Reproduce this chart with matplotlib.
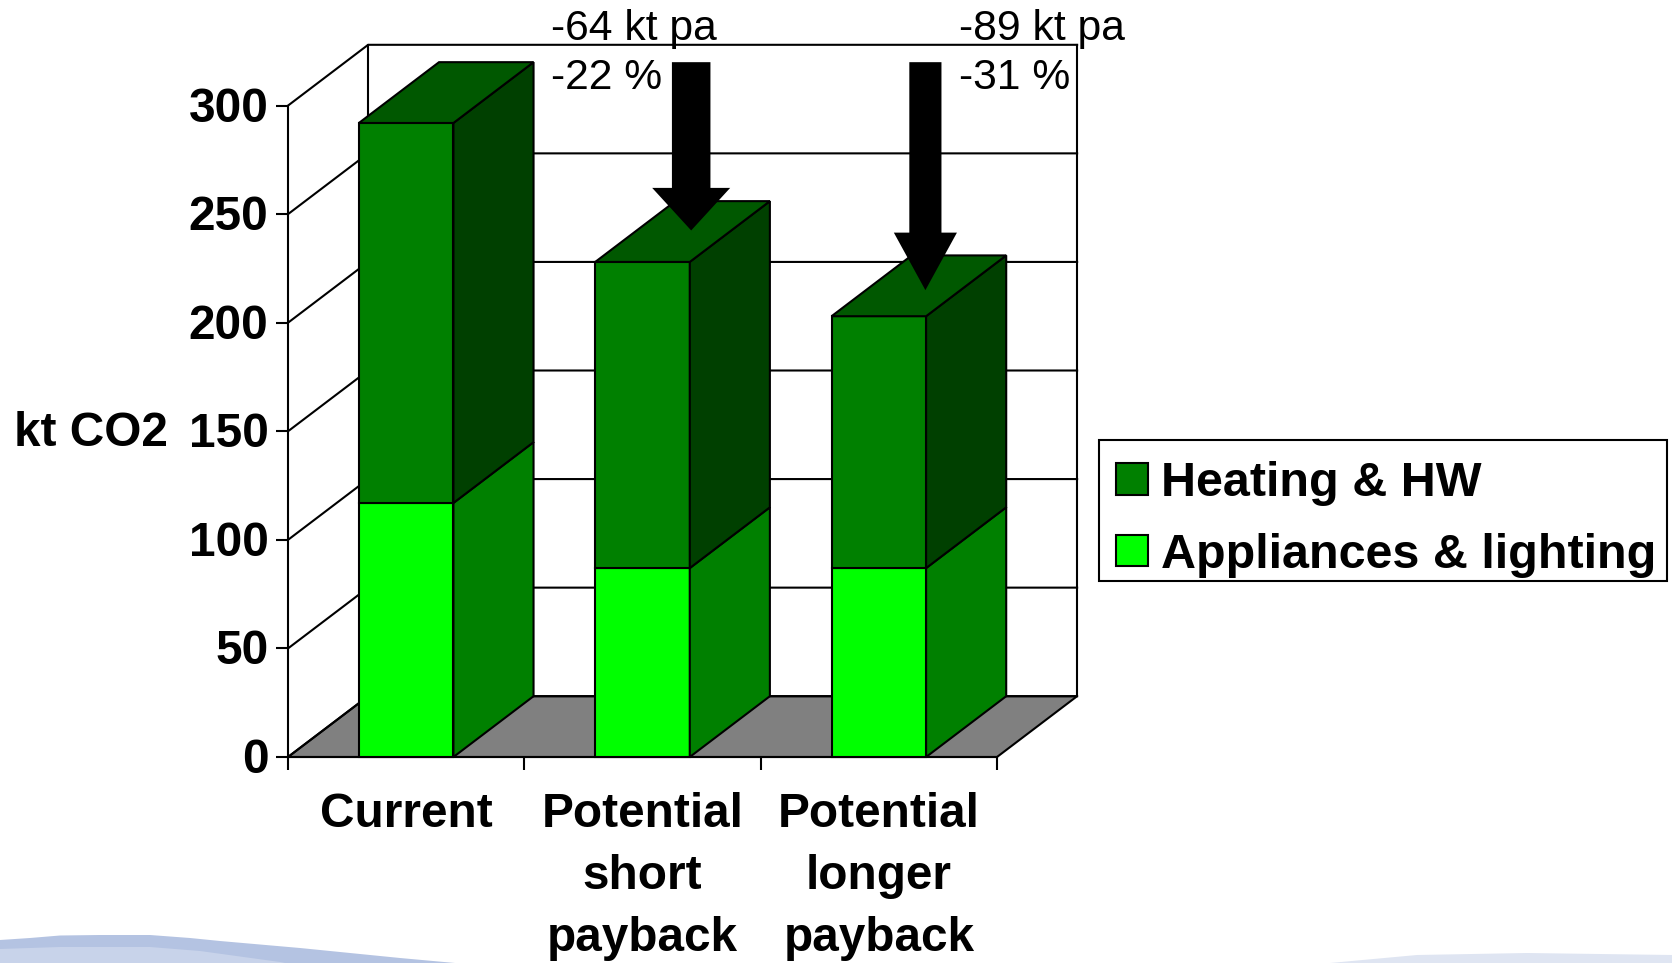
import matplotlib
matplotlib.use("Agg")
import matplotlib.pyplot as plt
from matplotlib.legend_handler import HandlerPatch
from matplotlib.patches import Polygon, Patch, FancyArrow, Rectangle
from matplotlib.transforms import ScaledTranslation

plt.rcParams['font.family'] = ['Liberation Sans', 'DejaVu Sans']

categories = ["Current", "Potential\nshort\npayback", "Potential\nlonger\npayback"]
appliances = [117, 87, 87]
heating = [175, 141, 116]
y_ticks = [0, 50, 100, 150, 200, 250, 300]
arrow_labels = ["-64 kt pa\n-22 %", "-89 kt pa\n-31 %"]

# depth of the fake 3d box, in data units
DX = 0.339
DY = 28.0
BAR_W = 0.4

LINE = "black"
LW = 1.5
FS = 34.4


def box(ax, x0, x1, y0, y1, front, side, top=None, z=3):
    ax.add_patch(Polygon([(x0, y0), (x1, y0), (x1, y1), (x0, y1)], fc=front, ec=LINE, lw=LW, zorder=z, clip_on=False))
    ax.add_patch(Polygon([(x1, y0), (x1 + DX, y0 + DY), (x1 + DX, y1 + DY), (x1, y1)], fc=side, ec=LINE, lw=LW, zorder=z, clip_on=False))
    if top:
        ax.add_patch(Polygon([(x0, y1), (x1, y1), (x1 + DX, y1 + DY), (x0 + DX, y1 + DY)], fc=top, ec=LINE, lw=LW, zorder=z, clip_on=False))


def square_handle(legend, orig_handle, xdescent, ydescent, width, height, fontsize):
    # square sits at the right of the handle box, the legend pads are tighter than the slide's
    return Rectangle((width - height - xdescent, -ydescent), height, height)


def draw_background(fig):
    # pale swooshes of the slide template along the bottom edge
    bg = fig.add_axes([0, 0, 1, 1], zorder=-1)
    bg.set_xlim(0, 1672)
    bg.set_ylim(963, 0)
    bg.axis("off")
    bg.add_patch(Polygon([(0, 940), (30, 938), (60, 935.5), (100, 935), (150, 935), (190, 938), (220, 941), (300, 948), (400, 958), (455, 963), (0, 963)],
                         fc="#b4c3e2", ec="none"))
    bg.add_patch(Polygon([(0, 949), (60, 947), (150, 947), (200, 951), (280, 962), (285, 963), (0, 963)], fc="#c8d3ea", ec="none"))
    bg.add_patch(Polygon([(1330, 963), (1417, 955), (1527, 953), (1672, 955), (1672, 963)], fc="#dfe5f2", ec="none"))


def main():
    fig = plt.figure(figsize=(16.72, 9.63), dpi=100)
    draw_background(fig)

    ax = fig.add_axes([288 / 1672, (963 - 757) / 963, (997 - 288) / 1672, (757 - 105.6) / 963])
    ax.patch.set_visible(False)
    ax.set_xlim(0, 3)
    ax.set_ylim(0, 300)

    for s in ["top", "right"]:
        ax.spines[s].set_visible(False)
    for s in ["left", "bottom"]:
        ax.spines[s].set_linewidth(LW)

    n = len(categories)

    # floor
    ax.add_patch(Polygon([(0, 0), (n, 0), (n + DX, DY), (DX, DY)], fc="#808080", ec=LINE, lw=LW, zorder=1, clip_on=False))

    # walls
    for t in y_ticks:
        ax.plot([0, DX, n + DX], [t, t + DY, t + DY], color=LINE, lw=LW, zorder=2, clip_on=False)
    ax.plot([DX, DX], [DY, 300 + DY], color=LINE, lw=LW, zorder=2, clip_on=False)
    ax.plot([n + DX, n + DX], [DY, 300 + DY], color=LINE, lw=LW, zorder=2, clip_on=False)

    # bars
    for i in range(n):
        x0 = i + 0.5 - BAR_W / 2
        x1 = x0 + BAR_W
        box(ax, x0, x1, 0, appliances[i], "#00ff00", "#008000", z=3 + i)
        box(ax, x0, x1, appliances[i], appliances[i] + heating[i], "#008000", "#004000", "#005800", z=3 + i)

    # reduction arrows
    ax.add_patch(FancyArrow(1.706, 320, 0, 242.5 - 320, width=0.163, head_width=0.33, head_length=19.6,
                            length_includes_head=True, fc="black", ec="none", zorder=8, clip_on=False))
    ax.add_patch(FancyArrow(2.697, 320, 0, 215 - 320, width=0.136, head_width=0.267, head_length=26.5,
                            length_includes_head=True, fc="black", ec="none", zorder=8, clip_on=False))

    ax.text(1.112, 324, arrow_labels[0], fontsize=30.7, va="center", ha="left", linespacing=1.32, zorder=9, clip_on=False)
    ax.text(2.841, 324, arrow_labels[1], fontsize=30.7, va="center", ha="left", linespacing=1.32, zorder=9, clip_on=False)

    # axes
    ax.set_yticks(y_ticks)
    ax.set_xticks(range(n + 1))
    ax.set_xticklabels([])
    ax.set_xticks([i + 0.5 for i in range(n)], minor=True)
    ax.set_xticklabels(categories, minor=True, fontsize=FS, fontweight="bold", linespacing=1.48)
    ax.tick_params(axis="x", which="major", length=9, width=LW)
    ax.tick_params(axis="x", which="minor", length=0, pad=25.5)
    ax.tick_params(axis="y", length=9, width=LW, labelsize=FS, pad=5)
    nudge = ScaledTranslation(0, 1.5 / 100, fig.dpi_scale_trans)
    for tick in ax.yaxis.get_major_ticks():
        tick.label1.set_fontweight("bold")
        tick.label1.set_transform(tick.label1.get_transform() + nudge)

    ax.set_ylabel("kt CO2", rotation=0, fontsize=FS, fontweight="bold", ha="right", va="center")
    ax.yaxis.set_label_coords(-0.170, 0.497)

    # frame is drawn apart, the slide's legend text is not centred in its box
    fig.add_artist(Rectangle((1099.4 / 1672, (963 - 581.1) / 963), 567.3 / 1672, 140.7 / 963, transform=fig.transFigure,
                             fc="white", ec=LINE, lw=LW, zorder=3))
    handles = [Patch(fc="#008000", ec=LINE, lw=LW), Patch(fc="#00ff00", ec=LINE, lw=LW)]
    leg = fig.legend(handles, ["Heating & HW", "Appliances & lighting"], loc="center left",
                     bbox_to_anchor=(1100 / 1672, (963 - 519.5) / 963), fontsize=34.9, frameon=False,
                     handlelength=0.73, handleheight=0.63, handletextpad=0.285,
                     labelspacing=0.54, borderpad=0.25, borderaxespad=0,
                     handler_map={Patch: HandlerPatch(patch_func=square_handle)})
    leg.set_zorder(4)
    for t in leg.get_texts():
        t.set_fontweight("bold")

    fig.savefig("out.png", dpi=100)


if __name__ == "__main__":
    main()
